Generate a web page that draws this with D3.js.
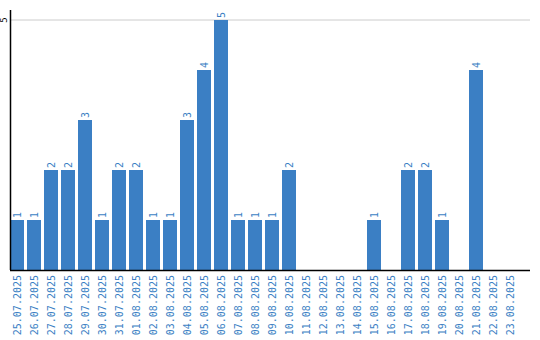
<!DOCTYPE html>
<html><head><meta charset="utf-8">
<script src="https://cdn.jsdelivr.net/npm/d3@7/dist/d3.min.js"></script>
<style>body{margin:0;background:#fff}svg{display:block}</style>
</head><body>
<svg id="c" width="540" height="340"></svg>
<script>
const dates = ["25.07.2025","26.07.2025","27.07.2025","28.07.2025","29.07.2025","30.07.2025","31.07.2025","01.08.2025","02.08.2025","03.08.2025","04.08.2025","05.08.2025","06.08.2025","07.08.2025","08.08.2025","09.08.2025","10.08.2025","11.08.2025","12.08.2025","13.08.2025","14.08.2025","15.08.2025","16.08.2025","17.08.2025","18.08.2025","19.08.2025","20.08.2025","21.08.2025","22.08.2025","23.08.2025"];
const values = [1,1,2,2,3,1,2,2,1,1,3,4,5,1,1,1,2,0,0,0,0,1,0,2,2,1,0,4,0,0];
const yTicks = [5];

const svg = d3.select("#c");
const color = "#3b7fc4";
const x = d3.scaleBand().domain(dates).range([10, 517]).paddingInner(3/17).paddingOuter(0);
const y = d3.scaleLinear().domain([0, 5.2]).range([270, 10]);

// gridline
svg.selectAll("line.grid").data(yTicks).enter().append("line")
  .attr("x1", 10).attr("x2", 530).attr("y1", d => y(d)).attr("y2", d => y(d))
  .attr("stroke", "#cccccc").attr("stroke-width", 1);

// y tick labels
svg.selectAll("text.yt").data(yTicks).enter().append("text")
  .attr("transform", d => `translate(7,${y(d)}) rotate(-90)`)
  .attr("text-anchor", "middle")
  .attr("font-family", "DejaVu Sans Mono, monospace").attr("font-size", 9)
  .attr("fill", "#000").text(d => d);

// bars
const data = dates.map((d, i) => ({d, v: values[i]}));
svg.selectAll("rect.bar").data(data.filter(e => e.v > 0)).enter().append("rect")
  .attr("x", e => x(e.d)).attr("width", x.bandwidth())
  .attr("y", e => y(e.v)).attr("height", e => y(0) - y(e.v))
  .attr("fill", color);

// value labels
svg.selectAll("text.val").data(data.filter(e => e.v > 0)).enter().append("text")
  .attr("transform", e => `translate(${x(e.d) + x.bandwidth()/2 + 3.5},${y(e.v) - 2}) rotate(-90)`)
  .attr("text-anchor", "start")
  .attr("font-family", "DejaVu Sans Mono, monospace").attr("font-size", 10)
  .attr("fill", color).text(e => e.v);

// axes lines
svg.append("line").attr("x1", 10.5).attr("x2", 10.5).attr("y1", 10).attr("y2", 270)
  .attr("stroke", "#000").attr("stroke-width", 1.5);
svg.append("line").attr("x1", 10).attr("x2", 530).attr("y1", 270.5).attr("y2", 270.5)
  .attr("stroke", "#000").attr("stroke-width", 1.5);

// x labels
svg.selectAll("text.xl").data(dates).enter().append("text")
  .attr("transform", d => `translate(${x(d) + x.bandwidth()/2 + 3.5},275) rotate(-90)`)
  .attr("text-anchor", "end")
  .attr("font-family", "DejaVu Sans Mono, monospace").attr("font-size", 10)
  .attr("fill", color).text(d => d);
</script>
</body></html>
